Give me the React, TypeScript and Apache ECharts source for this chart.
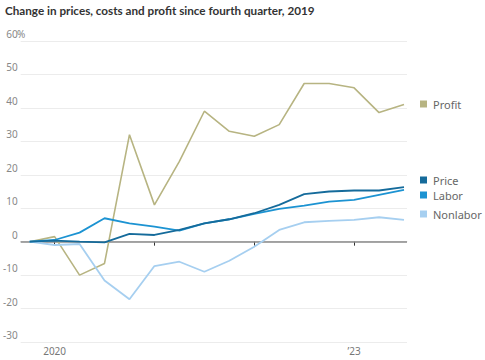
import React, { useEffect, useRef } from "react";
import * as echarts from "echarts";

const quarters = ["Q4 2019","Q1 2020","Q2 2020","Q3 2020","Q4 2020","Q1 2021","Q2 2021","Q3 2021","Q4 2021","Q1 2022","Q2 2022","Q3 2022","Q4 2022","Q1 2023","Q2 2023","Q3 2023"];
const profit = [0, 1.5, -10, -6.5, 32, 11, 24, 39, 33, 31.5, 35, 47.3, 47.3, 46, 38.6, 41];
const price = [0, 0.3, 0, -0.2, 2.3, 2.0, 3.5, 5.5, 6.7, 8.5, 11, 14.2, 15, 15.3, 15.3, 16.3];
const labor = [0, 0.5, 2.7, 7.0, 5.5, 4.5, 3.3, 5.5, 6.7, 8.3, 9.8, 10.8, 12, 12.5, 14, 15.5];
const nonlabor = [0, -1, -0.7, -11.6, -17.2, -7.3, -6, -9, -5.7, -1.5, 3.5, 5.8, 6.2, 6.5, 7.3, 6.5];
const xTickPositions = [1, 5, 9, 13];
const xTickLabels: Record<number, string> = { 1: "2020", 13: "\u201923" };

const COLORS = { profit: "#b7b482", price: "#156b9b", labor: "#1c93d2", nonlabor: "#a6cff0" };
const FONT = "'Noto Sans', 'Open Sans', sans-serif";

const toPts = (arr: number[]) => arr.map((v, i) => [i, v]);

export default function App() {
  const ref = useRef<HTMLDivElement>(null);
  useEffect(() => {
    if (!ref.current) return;
    const chart = echarts.init(ref.current, null, { renderer: "svg" });
    const legendItems = [
      { name: "Profit", color: COLORS.profit, y: 104 },
      { name: "Price", color: COLORS.price, y: 180 },
      { name: "Labor", color: COLORS.labor, y: 195 },
      { name: "Nonlabor", color: COLORS.nonlabor, y: 214 },
    ];
    const graphic: any[] = [
      {
        type: "text",
        left: 5,
        top: 4,
        style: { text: "Change in prices, costs and profit since fourth quarter, 2019", fill: "#333", font: `bold 11.7px Lato, ${FONT}` },
      },
      {
        type: "text",
        x: 17,
        y: 39,
        style: { text: "%", fill: "#888", font: `10px ${FONT}`, verticalAlign: "bottom", align: "left" },
      },
    ];
    legendItems.forEach((it) => {
      graphic.push({ type: "rect", shape: { x: 420, y: it.y - 3.5, width: 7, height: 7 }, style: { fill: it.color } });
      graphic.push({
        type: "text",
        x: 433,
        y: it.y,
        style: { text: it.name, fill: "#666", font: `11px ${FONT}`, verticalAlign: "middle", align: "left" },
      });
    });
    const mk = (name: string, data: number[], color: string, width: number, extra: any = {}) => ({
      name,
      type: "line",
      data: toPts(data),
      symbol: "none",
      lineStyle: { color, width },
      itemStyle: { color },
      z: 3,
      ...extra,
    });
    chart.setOption({
      animation: false,
      textStyle: { fontFamily: FONT },
      grid: { left: 20, right: 78, top: 41, bottom: 18 },
      graphic,
      xAxis: {
        type: "value",
        min: -0.36,
        max: 15.12,
        splitLine: { show: false },
        axisLine: { show: true, lineStyle: { color: "#e8e8e8", width: 1 } },
        axisTick: { show: true, customValues: xTickPositions, length: 4, lineStyle: { color: "#333", width: 1 } },
        axisLabel: {
          customValues: xTickPositions,
          formatter: (v: number) => xTickLabels[v] ?? "",
          color: "#777",
          fontSize: 10,
          margin: 4,
        },
      },
      yAxis: {
        type: "value",
        min: -30,
        max: 60,
        interval: 10,
        axisLine: { show: false },
        axisTick: { show: false },
        splitLine: { lineStyle: { color: "#ececec", width: 1 } },
        axisLabel: {
          color: "#888",
          fontSize: 10,
          align: "right",
          margin: 3,
          verticalAlign: "bottom",
          padding: [0, 0, 2, 0],
        },
      },
      series: [
        mk("Profit", profit, COLORS.profit, 1.6, {
          markLine: {
            silent: true,
            symbol: "none",
            label: { show: false },
            lineStyle: { color: "#888", width: 1.5, type: "solid" },
            data: [{ yAxis: 0 }],
            z: 1,
          },
        }),
        mk("Nonlabor", nonlabor, COLORS.nonlabor, 1.8),
        mk("Labor", labor, COLORS.labor, 1.8),
        mk("Price", price, COLORS.price, 1.8),
      ],
    });
    return () => chart.dispose();
  }, []);
  return <div ref={ref} style={{ width: 485, height: 360, position: "absolute", left: 0, top: 0 }} />;
}
